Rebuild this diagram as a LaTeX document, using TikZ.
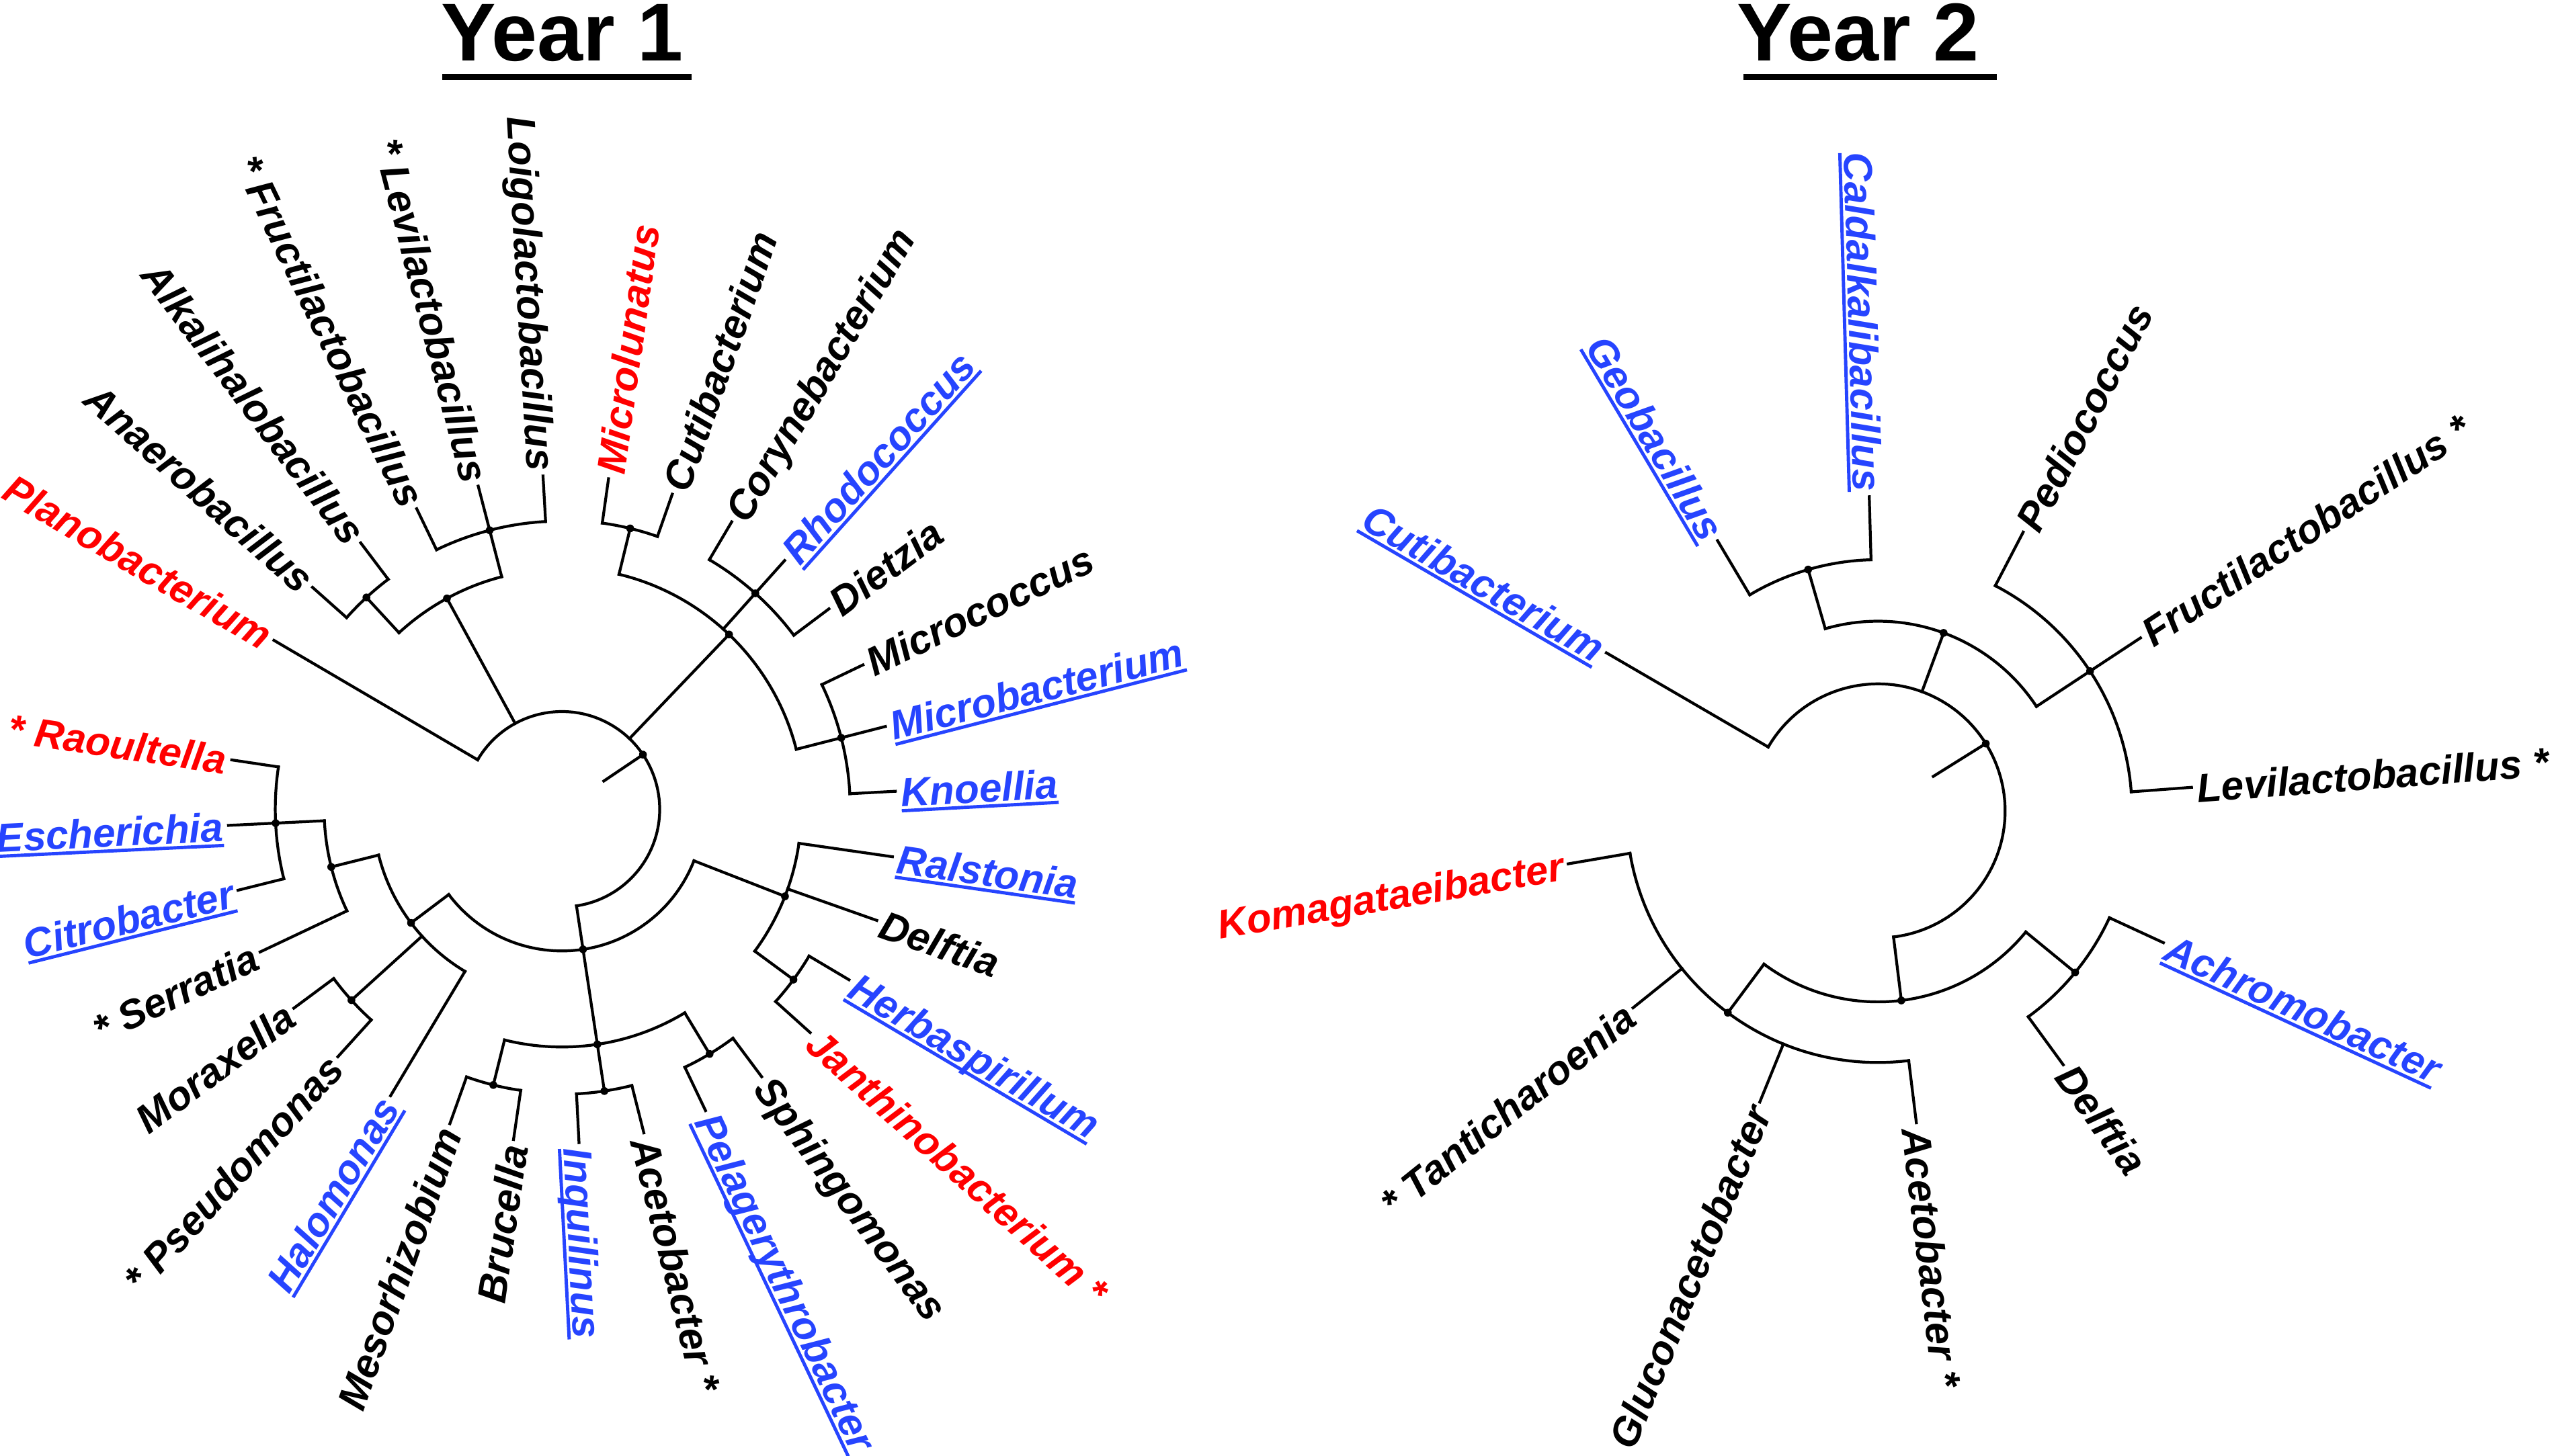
\documentclass[tikz,border=0pt]{standalone}
\usepackage{fontspec}
\setmainfont{Liberation Sans}
\definecolor{gblue}{RGB}{38,68,255}
\definecolor{gred}{RGB}{255,0,0}
\newcommand\ulin[1]{\setbox0=\hbox{#1}\rlap{\rule[-2.5pt]{\wd0}{1.4pt}}\box0}
\tikzset{
  br/.style={line width=1.2pt, line cap=rect},
  lab/.style={font=\fontsize{17.1}{20}\selectfont\bfseries\itshape, inner sep=0pt, text height=13.2pt, text depth=0pt},
  ttl/.style={font=\fontsize{34.8}{40}\selectfont\bfseries, inner sep=0pt, anchor=base west},
  bl/.style={text=gblue},
  rd/.style={text=gred},
}
\newcommand\lfR[5][]{%
  \draw[br] (#3:#4) -- (#3:\tipr) coordinate (#2-tip);
  \node[lab,#1,anchor=west,rotate=#3] (#2) at (#3:\labr) {#5};}
\newcommand\lfL[5][]{%
  \draw[br] (#3:#4) -- (#3:\tipr) coordinate (#2-tip);
  \node[lab,#1,anchor=east,rotate=#3+180] (#2) at (#3:\labr) {#5};}
\newcommand\clarc[3]{\draw[br] (#2:#1) arc[start angle=#2, end angle=#3, radius=#1];}
\newcommand\radl[3]{\draw[br] (#1:#2) -- (#1:#3);}
\begin{document}
\begin{tikzpicture}[x=0.024235cm,y=0.024235cm]
\useasboundingbox (0,0) rectangle (1568,894.16);
% titles
\node[ttl] (t1) at (270.5,857) {Year 1};
\fill (271.5,844.93) rectangle (424.6,848.77);
\node[ttl] (t2) at (1066,857) {Year 2};
\fill (1070.4,844.93) rectangle (1225.9,848.77);
% ---------------- Year 1 ----------------
\begin{scope}[shift={(345,397.16)}]
\def\tipr{205}\def\labr{208}
\radl{34}{31}{60}
\clarc{60}{149.6}{-81.44}
% Firmicutes
\radl{118.6}{60}{147.5}
\clarc{147.5}{132.7}{104.52}
\radl{132.7}{147.5}{177}
\clarc{177}{138.33}{127.06}
\radl{104.52}{147.5}{177}
\clarc{177}{115.79}{93.25}
% Actinobacteria
\radl{46.3}{60}{148.5}
\clarc{148.5}{76.35}{14.36}
\radl{76.35}{148.5}{177.5}
\clarc{177.5}{81.98}{70.71}
\radl{48.17}{148.5}{178}
\clarc{178}{59.44}{36.9}
\radl{14.36}{148.5}{177}
\clarc{177}{25.63}{3.09}
% Proteobacteria
\radl{-81.44}{60}{87}
\clarc{87}{-143}{-21.33}
\radl{-143}{87}{116}
\clarc{116}{-165.96}{-120.88}
\radl{-165.96}{116}{146}
\clarc{146}{-177.23}{-154.69}
\radl{-177.23}{146}{176}
\clarc{176}{-165.96}{-188.5}
\radl{-137.785}{116}{174.5}
\clarc{174.5}{-132.15}{-143.42}
\radl{-81.44}{87}{146}
\clarc{146}{-103.975}{-58.9}
\radl{-103.975}{146}{174.5}
\clarc{174.5}{-98.34}{-109.61}
\radl{-81.44}{146}{175}
\clarc{175}{-75.8}{-87.07}
\radl{-58.9}{146}{175.5}
\clarc{175.5}{-53.26}{-64.53}
\radl{-21.33}{87}{147}
\clarc{147}{-36.355}{-8.18}
\radl{-36.355}{147}{176.5}
\clarc{176.5}{-30.72}{-41.99}
% leaves
\lfL[rd]{y1plano}{149.6}{60}{Planobacterium}
\lfL{y1anaero}{138.33}{177}{Anaerobacillus}
\lfL{y1alkali}{127.06}{177}{Alkalihalobacillus}
\lfL{y1fructi}{115.79}{177}{* Fructilactobacillus}
\lfL{y1levi}{104.52}{177}{* Levilactobacillus}
\lfL{y1loigo}{93.25}{177}{Loigolactobacillus}
\lfR[rd]{y1microl}{81.98}{177.5}{Microlunatus}
\lfR{y1cuti}{70.71}{177.5}{Cutibacterium}
\lfR{y1coryne}{59.44}{178}{Corynebacterium}
\lfR[bl]{y1rhodo}{48.17}{178}{\ulin{Rhodococcus}}
\lfR{y1dietzia}{36.9}{178}{Dietzia}
\lfR{y1micrococ}{25.63}{177}{Micrococcus}
\lfR[bl]{y1microb}{14.36}{177}{\ulin{Microbacterium}}
\lfR[bl]{y1knoel}{3.09}{177}{\ulin{Knoellia}}
\lfR[bl]{y1ralst}{-8.18}{147}{\ulin{Ralstonia}}
\lfR{y1delf}{-19.45}{147}{Delftia}
\lfR[bl]{y1herba}{-30.72}{176.5}{\ulin{Herbaspirillum}}
\lfR[rd]{y1janth}{-41.99}{176.5}{Janthinobacterium *}
\lfR{y1sphingo}{-53.26}{175.5}{Sphingomonas}
\lfR[bl]{y1pelag}{-64.53}{175.5}{\ulin{Pelagerythrobacter}}
\lfR{y1aceto}{-75.8}{175}{Acetobacter *}
\lfR[bl]{y1inqui}{-87.07}{175}{\ulin{Inquilinus}}
\lfL{y1bruc}{-98.34}{174.5}{Brucella}
\lfL{y1meso}{-109.61}{174.5}{Mesorhizobium}
\lfL[bl]{y1halo}{-120.88}{116}{\ulin{Halomonas}}
\lfL{y1pseudo}{-132.15}{174.5}{* Pseudomonas}
\lfL{y1morax}{-143.42}{174.5}{Moraxella}
\lfL{y1serr}{-154.69}{146}{* Serratia}
\lfL[bl]{y1citro}{-165.96}{176}{\ulin{Citrobacter}}
\lfL[bl]{y1esch}{-177.23}{176}{\ulin{Escherichia}}
\lfL[rd]{y1raoul}{-188.5}{176}{* Raoultella}
\foreach \a/\r in {34/60, 118.6/147.5, 132.7/177, 104.52/177, 46.3/148.5, 76.35/177.5, 48.17/178, 14.36/177, -81.44/87, -143/116, -165.96/146, -177.23/176, -137.785/174.5, -81.44/146, -103.975/174.5, -81.44/175, -58.9/175.5, -21.33/147, -36.355/176.5}
  \fill (\a:\r) circle[radius=2.4];
\end{scope}
% ---------------- Year 2 ----------------
\begin{scope}[shift={(1153,396.16)}]
\def\tipr{193}\def\labr{196}
\radl{32}{40}{78}
\clarc{78}{149.8}{-83}
\radl{69.78}{78}{116.5}
\clarc{116.5}{106.15}{33.4}
\radl{106.15}{116.5}{154.3}
\clarc{154.3}{120.7}{91.6}
\radl{33.4}{116.5}{155.9}
\clarc{155.9}{62.5}{4.3}
\radl{-83}{78}{117.3}
\clarc{117.3}{-126.65}{-39.35}
\radl{-126.65}{117.3}{154.5}
\clarc{154.5}{-170.3}{-83}
\radl{-39.35}{117.3}{156.5}
\clarc{156.5}{-24.8}{-53.9}
\lfL[bl]{y2cuti}{149.8}{78}{\ulin{Cutibacterium}}
\lfL[bl]{y2geo}{120.7}{154.3}{\ulin{Geobacillus}}
\lfL[bl]{y2calda}{91.6}{154.3}{\ulin{Caldalkalibacillus}}
\lfR{y2pedio}{62.5}{155.9}{Pediococcus}
\lfR{y2fructi}{33.4}{155.9}{Fructilactobacillus *}
\lfR{y2levi}{4.3}{155.9}{Levilactobacillus *}
\lfR[bl]{y2achro}{-24.8}{156.5}{\ulin{Achromobacter}}
\lfR{y2delf}{-53.9}{156.5}{Delftia}
\lfR{y2aceto}{-83}{154.5}{Acetobacter *}
\lfL{y2gluco}{-112.1}{154.5}{Gluconacetobacter}
\lfL{y2tanti}{-141.2}{154.5}{* Tanticharoenia}
\lfL[rd]{y2koma}{-170.3}{154.5}{Komagataeibacter}
\foreach \a/\r in {32/78, 69.78/116.5, 106.15/154.3, 33.4/155.9, -83/117.3, -126.65/154.5, -39.35/156.5}
  \fill (\a:\r) circle[radius=2.4];
\end{scope}
\end{tikzpicture}
\end{document}
